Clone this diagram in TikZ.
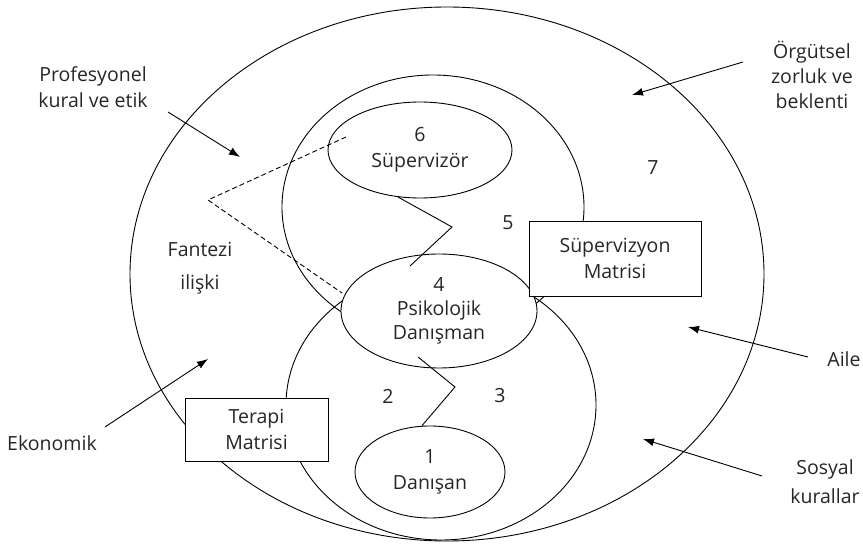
\documentclass[tikz,border=0pt]{standalone}
\usepackage{fontspec}
\setmainfont{Open Sans}
\usetikzlibrary{shapes.geometric,arrows.meta}

\begin{document}
\begin{tikzpicture}[x=1pt,y=-1pt,line width=0.9pt,>={Latex[length=11pt,width=8pt]},
      every node/.style={font=\fontsize{19.5}{26}\selectfont,align=center,text=black!85},
      ring/.style={draw,ellipse,inner sep=0pt},
      actor/.style={draw,ellipse,fill=white,inner sep=0pt},
      matbox/.style={draw,rectangle,fill=white,inner sep=0pt},
      pointer/.style={->}]
      \useasboundingbox (0,0) rectangle (863,545);
			% rings
			\node[ring,minimum width=634,minimum height=534] (env) at (447,274) {};
			\node[ring,minimum width=302,minimum height=264] (supring) at (433,207) {};
			\node[ring,minimum width=310,minimum height=270] (thring) at (441,405) {};
			% actors and matrices
			\node[actor,minimum width=196,minimum height=114] (couns) at (439,311) {4\\[-2pt]Psikolojik\\[-2pt]Danışman};
			\node[actor,minimum width=184,minimum height=96] (supv) at (420,150) {6\\Süpervizör};
			\node[actor,minimum width=150,minimum height=92] (clnt) at (430,472) {1\\Danışan};
			\node[matbox,minimum width=143,minimum height=63] (thmat) at (256.5,429.5) {Terapi\\Matrisi};
			\node[matbox,minimum width=172,minimum height=75] (supmat) at (615,258.5) {Süpervizyon\\Matrisi};
			% numbers and labels
			\node (n7) at (653,168) {7};
			\node (n5) at (508,223) {5};
			\node (n2) at (388,396) {2};
			\node (n3) at (500,396) {3};
			\node[font=\fontsize{19.5}{33}\selectfont] (fant) at (200,268) {Fantezi\\ilişki};
			\node (prof) at (93,87) {Profesyonel\\kural ve etik};
			\node[font=\fontsize{19.5}{25}\selectfont] (org) at (812,75) {Örgütsel\\zorluk ve\\beklenti};
			\node (aile) at (844,359) {Aile};
			\node[font=\fontsize{19.5}{29}\selectfont] (sos) at (825,482) {Sosyal\\kurallar};
			\node (ekon) at (52,443) {Ekonomik};
			% zigzags
			\coordinate (zz1) at (452,227);
			\coordinate (zz2) at (410,266);
			\coordinate (zz3) at (418,357);
			\coordinate (zz4) at (455,387);
			\draw (supv.-115) -- (zz1) -- (zz2);
			\draw (zz3) -- (zz4) -- (clnt.100);
			% fantasy link
			\coordinate (fa) at (346,137);
			\coordinate (fb) at (208,200);
			\coordinate (fc) at (342,293);
			\draw[dash pattern=on 5pt off 3pt] (fa) -- (fb) -- (fc);
			% outside pressures
			\coordinate (prof-from) at (168,112);
			\coordinate (prof-to) at (240,157);
			\coordinate (org-from) at (743,62);
			\coordinate (org-to) at (632,95);
			\coordinate (aile-from) at (808,357);
			\coordinate (aile-to) at (688,327);
			\coordinate (sos-from) at (762,476);
			\coordinate (sos-to) at (643,439);
			\coordinate (ekon-from) at (105,427);
			\coordinate (ekon-to) at (208,359);
			\draw[pointer] (prof-from) -- (prof-to);
			\draw[pointer] (org-from) -- (org-to);
			\draw[pointer] (aile-from) -- (aile-to);
			\draw[pointer] (sos-from) -- (sos-to);
			\draw[pointer] (ekon-from) -- (ekon-to);
		\end{tikzpicture}
\end{document}
